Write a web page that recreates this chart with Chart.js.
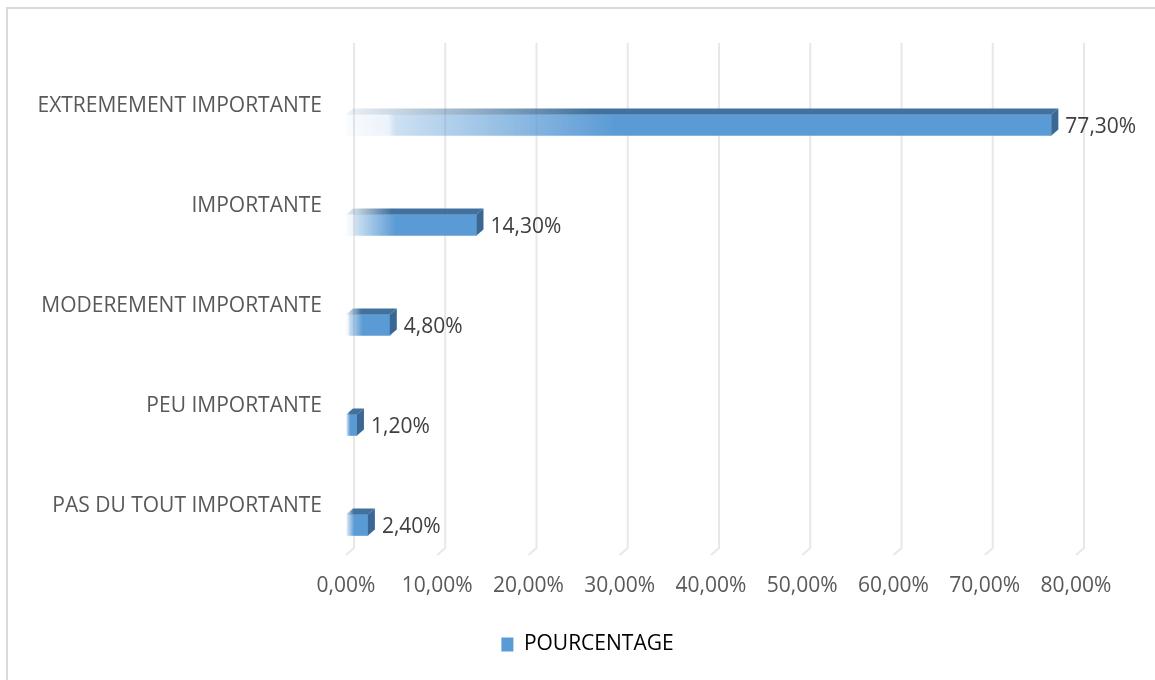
<!DOCTYPE html>
<html>
<head>
<meta charset="utf-8">
<script src="https://cdn.jsdelivr.net/npm/chart.js@4"></script>
<style>
  body { margin: 0; background: #fff; }
  #frame { position: absolute; left: 6px; top: 7px; width: 1200px; height: 720px; border: 2px solid #d9d9d9; }
  #wrap { position: absolute; left: 0; top: 0; width: 1155px; height: 680px; }
</style>
</head>
<body>
<div id="frame"></div>
<div id="wrap"><canvas id="chart" width="1155" height="680"></canvas></div>
<script>
// Importance des réponses (en %)
const categories = [
    'EXTREMEMENT IMPORTANTE',
    'IMPORTANTE',
    'MODEREMENT IMPORTANTE',
    'PEU IMPORTANTE',
    'PAS DU TOUT IMPORTANTE'
];
const pourcentages = [77.3, 14.3, 4.8, 1.2, 2.4];
const seriesName = 'POURCENTAGE';
const axisMin = 0;
const axisMax = 80;
const axisStep = 10;

const FONT = 'Open Sans';
const FSIZE = 21;
const GREY = '#595959';
const BLUE = '#5B9BD5';
const DARK = '#41719C';
const DX = 7, DY = 6; // profondeur 3D

function fmt(v) {
    return v.toFixed(2).replace('.', ',') + '%';
}

// faces du dessus / côté + étiquettes de valeur
const bars3d = {
    id: 'bars3d',
    beforeDatasetsDraw(chart) {
        // quadrillage sur le mur du fond
        const ctx = chart.ctx;
        const xs = chart.scales.x;
        const area = chart.chartArea;
        ctx.save();
        ctx.strokeStyle = '#e8e8e8';
        ctx.lineWidth = 2;
        xs.ticks.forEach(t => {
            const px = xs.getPixelForValue(t.value);
            ctx.beginPath();
            ctx.moveTo(px + DX + 1, 43);
            ctx.lineTo(px + DX + 1, area.bottom - 27);
            ctx.lineTo(px, area.bottom - 20);
            ctx.stroke();
        });
        ctx.restore();
    },
    afterDatasetsDraw(chart) {
        const ctx = chart.ctx;
        const meta = chart.getDatasetMeta(0);
        ctx.save();
        meta.data.forEach((bar, i) => {
            const p = bar.getProps(['x', 'y', 'base', 'height'], true);
            const top = p.y - p.height / 2;
            const bottom = p.y + p.height / 2;

            const g = ctx.createLinearGradient(p.base, 0, p.x, 0);
            g.addColorStop(0, 'rgba(65,113,156,0.1)');
            g.addColorStop(0.35, DARK);
            g.addColorStop(1, DARK);
            ctx.fillStyle = g;
            ctx.beginPath();
            ctx.moveTo(p.base, top);
            ctx.lineTo(p.x, top);
            ctx.lineTo(p.x + DX, top - DY);
            ctx.lineTo(p.base + DX, top - DY);
            ctx.closePath();
            ctx.fill();

            ctx.fillStyle = '#3A6794';
            ctx.beginPath();
            ctx.moveTo(p.x, top);
            ctx.lineTo(p.x + DX, top - DY);
            ctx.lineTo(p.x + DX, bottom - DY);
            ctx.lineTo(p.x, bottom);
            ctx.closePath();
            ctx.fill();

            ctx.fillStyle = '#404040';
            ctx.font = FSIZE + 'px "' + FONT + '"';
            ctx.textAlign = 'left';
            ctx.textBaseline = 'middle';
            ctx.fillText(fmt(pourcentages[i]), p.x + DX + 7, p.y + 2);
        });
        ctx.restore();
    }
};

function barFill(context) {
    const chart = context.chart;
    if (!chart.chartArea) return BLUE;
    const xs = chart.scales.x;
    const x0 = xs.getPixelForValue(0);
    const x1 = xs.getPixelForValue(context.raw);
    const g = chart.ctx.createLinearGradient(x0, 0, Math.max(x1, x0 + 1), 0);
    g.addColorStop(0, 'rgba(91,155,213,0.03)');
    g.addColorStop(0.06, 'rgba(91,155,213,0.12)');
    g.addColorStop(0.07, 'rgba(91,155,213,0.3)');
    g.addColorStop(0.38, BLUE);
    g.addColorStop(1, BLUE);
    return g;
}

const ctx = document.getElementById('chart').getContext('2d');
new Chart(ctx, {
    type: 'bar',
    data: {
        labels: categories,
        datasets: [{
            label: seriesName,
            data: pourcentages,
            backgroundColor: barFill,
            borderWidth: 0,
            barThickness: 21
        }]
    },
    plugins: [bars3d],
    options: {
        indexAxis: 'y',
        responsive: false,
        animation: false,
        layout: {
            padding: { left: 20, right: 0, top: 75, bottom: 15 }
        },
        plugins: {
            tooltip: { enabled: false },
            legend: {
                position: 'bottom',
                labels: {
                    color: GREY,
                    font: { family: FONT, size: FSIZE },
                    boxWidth: 12,
                    boxHeight: 14,
                    padding: 18,
                    generateLabels() {
                        return [{
                            text: seriesName,
                            fillStyle: BLUE,
                            strokeStyle: BLUE,
                            lineWidth: 0,
                            datasetIndex: 0
                        }];
                    }
                }
            }
        },
        scales: {
            x: {
                min: axisMin,
                max: axisMax,
                grid: { display: false, drawTicks: false },
                border: { display: false },
                ticks: {
                    stepSize: axisStep,
                    color: GREY,
                    padding: -2,
                    font: { family: FONT, size: FSIZE },
                    callback: v => fmt(v)
                },
                afterFit(scale) {
                    scale.height = 41;
                    scale.paddingRight = 79;
                }
            },
            y: {
                grid: { display: false, drawTicks: false },
                border: { display: false },
                ticks: {
                    color: GREY,
                    padding: 24,
                    labelOffset: -19,
                    font: { family: FONT, size: FSIZE }
                },
                afterFit(scale) { scale.width = 326; }
            }
        }
    }
});
</script>
</body>
</html>
